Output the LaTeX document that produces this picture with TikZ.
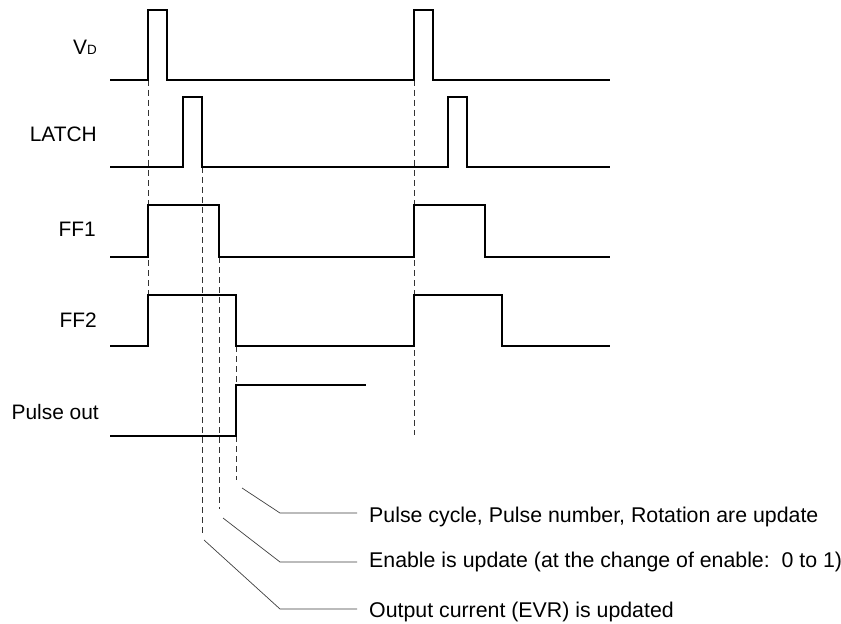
\documentclass[tikz,border=0pt]{standalone}
\usepackage{fontspec}
\setmainfont{Liberation Sans}
\usetikzlibrary{positioning}
\tikzstyle{wave} = [line width=2.3bp, line join=miter, black]
\tikzstyle{guide} = [line width=0.8bp, dash pattern=on 6bp off 4bp, black!80]

\begin{document}
\begin{tikzpicture}[x=1bp, y=-1bp,
    signame/.style={anchor=base east, inner sep=0pt, font=\fontsize{21}{24}\selectfont},
    note/.style={anchor=base west, inner sep=0pt, font=\fontsize{21.4}{24}\selectfont},
    leader/.style={line width=0.7bp, black!75, shorten >=12bp}]
\fill[white] (0,0) rectangle (841,624);
\useasboundingbox (0,0) rectangle (841,624);

% Timing guides
\draw[guide] (148,80) -- (148,295);
\draw[guide] (414,80) -- (414,435);
\draw[guide] (202,167) -- (202,533);
\draw[guide] (219,257) -- (219,509);
\draw[guide] (236,346) -- (236,480);

% Signal names
\node[signame] (vd) at (97,55) {V{\fontsize{13.5}{13}\selectfont D}};
\node[signame] (latch) at (97,142) {LATCH};
\node[signame] (ff1) at (96,237) {FF1};
\node[signame] (ff2) at (97,327) {FF2};
\node[signame] (pout) at (99,419) {Pulse out};

% Waveforms
\draw[wave] (110,80) -- (148,80) -- (148,10) -- (167,10) -- (167,80) -- (414,80)
    -- (414,10) -- (433,10) -- (433,80) -- (610,80);
\draw[wave] (110,167) -- (183,167) -- (183,97) -- (202,97) -- (202,167) -- (448,167)
    -- (448,97) -- (467,97) -- (467,167) -- (610,167);
\draw[wave] (110,257) -- (148,257) -- (148,205) -- (219,205) -- (219,257) -- (414,257)
    -- (414,205) -- (485,205) -- (485,257) -- (610,257);
\draw[wave] (110,346) -- (148,346) -- (148,295) -- (236,295) -- (236,346) -- (414,346)
    -- (414,295) -- (502,295) -- (502,346) -- (610,346);
\draw[wave] (110,436) -- (236,436) -- (236,385) -- (366,385);

% Notes
\node[note] (cycle) at (369,522) {Pulse cycle, Pulse number, Rotation are update};
\node[note] (enable) at (369,567) {Enable is update (at the change of enable:\ \ 0 to 1)};
\node[note] (evr) at (369,617) {Output current (EVR) is updated};

% Leaders
\coordinate (cycletip) at (242,488);
\coordinate (cycleknee) at (280,513);
\coordinate (enabletip) at (223,518);
\coordinate (enableknee) at (280,562);
\coordinate (evrtip) at (204,540);
\coordinate (evrknee) at (280,609);

\draw[leader] (cycletip) -- (cycleknee) -- (cycleknee -| cycle.west);
\draw[leader] (enabletip) -- (enableknee) -- (enableknee -| enable.west);
\draw[leader] (evrtip) -- (evrknee) -- (evrknee -| evr.west);
\end{tikzpicture}
\end{document}
